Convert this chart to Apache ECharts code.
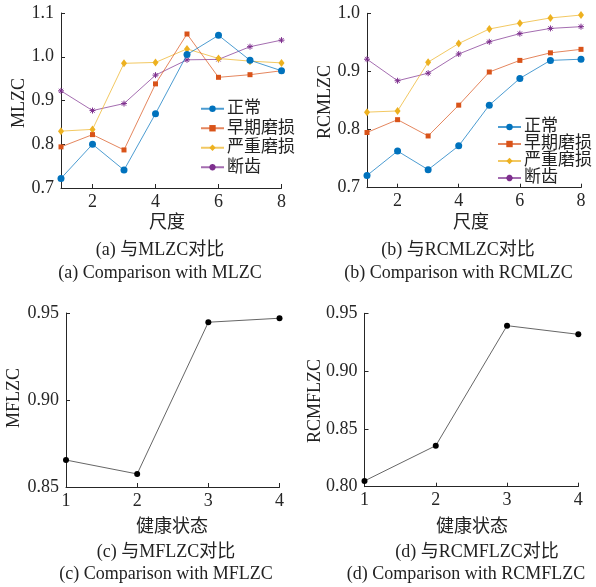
<!DOCTYPE html>
<html>
<head>
<meta charset="utf-8">
<script src="https://cdn.jsdelivr.net/npm/echarts@6/dist/echarts.min.js"></script>
<style>html,body{margin:0;padding:0;background:#fff;}#c{width:596px;height:587px;}</style>
</head>
<body>
<div id="c"></div>
<script>
// ---- data ----
const scales = ['1','2','3','4','5','6','7','8'];
const seriesNames = ['正常','早期磨损','严重磨损','断齿'];
const mlzcNormal = [0.722, 0.800, 0.741, 0.870, 1.005, 1.049, 0.992, 0.968];
const mlzcEarly  = [0.794, 0.822, 0.787, 0.938, 1.052, 0.953, 0.959, 0.968];
const mlzcSevere = [0.830, 0.834, 0.985, 0.987, 1.018, 0.996, 0.990, 0.986];
const mlzcBroken = [0.922, 0.877, 0.893, 0.958, 0.993, 0.994, 1.023, 1.038];
const rcmlzcNormal = [0.721, 0.763, 0.731, 0.772, 0.842, 0.888, 0.919, 0.921];
const rcmlzcEarly  = [0.795, 0.817, 0.789, 0.842, 0.899, 0.919, 0.932, 0.938];
const rcmlzcSevere = [0.830, 0.832, 0.916, 0.948, 0.973, 0.983, 0.992, 0.997];
const rcmlzcBroken = [0.921, 0.884, 0.897, 0.930, 0.951, 0.965, 0.974, 0.977];
const states = ['1','2','3','4'];
const mflzc   = [0.8655, 0.8575, 0.9447, 0.9470];
const rcmflzc = [0.8050, 0.8355, 0.9393, 0.9318];

// ---- styles ----
const FONT = '"Liberation Serif", "Noto Sans CJK SC", serif';
const AX = '#262626';
const colors = ['#0072BD', '#D95319', '#EDB120', '#7E2F8E'];
const symbols = ['circle', 'rect', 'diamond', 'path://M0,5L10,5M5,0L5,10M1.5,1.5L8.5,8.5M8.5,1.5L1.5,8.5'];
const symSizes = [7, 5, [6, 8], 6];

const chart = echarts.init(document.getElementById('c'), null, {renderer: 'canvas'});

function xCat(gi, data, showEven) {
  return {
    type: 'category', gridIndex: gi, data: data, boundaryGap: false,
    axisLine: {show: true, onZero: false, lineStyle: {color: AX, width: 1}},
    axisTick: {show: true, inside: true, length: 4, lineStyle: {color: AX},
      interval: showEven ? (i) => i % 2 === 1 : 0},
    axisLabel: {show: true, interval: showEven ? (i) => i % 2 === 1 : 0,
      color: AX, fontFamily: FONT, fontSize: 18, margin: 5},
    splitLine: {show: false}
  };
}
function yVal(gi, min, max, interval, dec, margin) {
  return {
    type: 'value', gridIndex: gi, min: min, max: max, interval: interval,
    axisLine: {show: true, lineStyle: {color: AX, width: 1}},
    axisTick: {show: true, inside: true, length: 4, lineStyle: {color: AX}},
    axisLabel: {color: AX, fontFamily: FONT, fontSize: 18, margin: margin,
      formatter: (v) => v.toFixed(dec)},
    splitLine: {show: false}
  };
}
function multi(gi, arrays) {
  return arrays.map((arr, k) => ({
    name: seriesNames[k], type: 'line', xAxisIndex: gi, yAxisIndex: gi,
    data: arr, symbol: symbols[k], symbolSize: symSizes[k], showAllSymbol: true,
    color: colors[k],
    lineStyle: {color: colors[k], width: 1, opacity: 0.7},
    itemStyle: {color: colors[k], borderColor: colors[k], borderWidth: k === 3 ? 1 : 0},
    animation: false, z: 2 + (3 - k)
  }));
}
function single(gi, arr) {
  return {
    type: 'line', xAxisIndex: gi, yAxisIndex: gi, data: arr,
    symbol: 'circle', symbolSize: 6,
    lineStyle: {color: '#666', width: 1},
    itemStyle: {color: '#000'}, animation: false
  };
}
function txt(x, y, text, rot) {
  return {type: 'text', x: x, y: y, rotation: rot || 0,
    style: {text: text, fill: '#222', font: '18px ' + FONT, align: 'center', verticalAlign: 'middle'}};
}
function legend(left, top, lh) {
  return {
    data: seriesNames, left: left, top: top, orient: 'vertical',
    itemWidth: 23, itemHeight: 8, itemGap: 0, padding: 0, selectedMode: false,
    textStyle: {fontFamily: FONT, fontSize: 17, color: '#222', lineHeight: lh, padding: [0,0,0,-2]}
  };
}

const option = {
  animation: false,
  backgroundColor: '#fff',
  grid: [
    {left: 61, top: 13, width: 220.5, height: 175},
    {left: 367, top: 13.3, width: 214, height: 174.4},
    {left: 66, top: 313, width: 213.5, height: 174},
    {left: 364.5, top: 313.3, width: 213.8, height: 173.4}
  ],
  xAxis: [xCat(0, scales, true), xCat(1, scales, true), xCat(2, states, false), xCat(3, states, false)],
  yAxis: [yVal(0, 0.7, 1.1, 0.1, 1, 7), yVal(1, 0.7, 1.0, 0.1, 1, 7),
          yVal(2, 0.85, 0.95, 0.05, 2, 7), yVal(3, 0.80, 0.95, 0.05, 2, 7)],
  legend: [legend(200, 99, 19.5), legend(497, 118.5, 15.4)],
  series: [
    ...multi(0, [mlzcNormal, mlzcEarly, mlzcSevere, mlzcBroken]),
    ...multi(1, [rcmlzcNormal, rcmlzcEarly, rcmlzcSevere, rcmlzcBroken]),
    single(2, mflzc),
    single(3, rcmflzc)
  ],
  graphic: [
    txt(19, 103, 'MLZC', Math.PI / 2),
    txt(325, 102, 'RCMLZC', Math.PI / 2),
    txt(14, 398, 'MFLZC', Math.PI / 2),
    txt(315, 401, 'RCMFLZC', Math.PI / 2),
    txt(167, 223, '尺度'),
    txt(160, 250, '(a) 与MLZC对比'),
    txt(160, 273, '(a) Comparison with MLZC'),
    txt(471, 223, '尺度'),
    txt(458, 250, '(b) 与RCMLZC对比'),
    txt(458.5, 273, '(b) Comparison with RCMLZC'),
    txt(172, 527, '健康状态'),
    txt(166, 552, '(c) 与MFLZC对比'),
    txt(166, 574, '(c) Comparison with MFLZC'),
    txt(472, 527, '健康状态'),
    txt(477, 552, '(d) 与RCMFLZC对比'),
    txt(466, 574, '(d) Comparison with RCMFLZC')
  ]
};
chart.setOption(option);
</script>
</body>
</html>
